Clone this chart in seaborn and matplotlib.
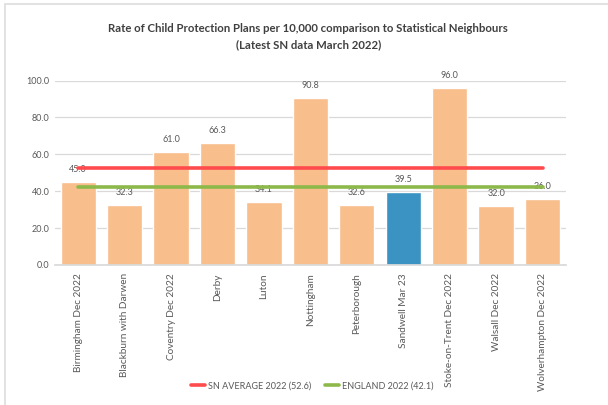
import matplotlib
matplotlib.use("Agg")
import matplotlib.pyplot as plt
import seaborn as sns
import pandas as pd
from matplotlib.patches import Rectangle

areas = ["Birmingham Dec 2022", "Blackburn with Darwen", "Coventry Dec 2022",
         "Derby", "Luton", "Nottingham", "Peterborough", "Sandwell Mar 23",
         "Stoke-on-Trent Dec 2022", "Walsall Dec 2022",
         "Wolverhampton Dec 2022"]
rates = [45.0, 32.3, 61.0, 66.3, 34.1, 90.8, 32.6, 39.5, 96.0, 32.0, 36.0]
highlight = "Sandwell Mar 23"
sn_average = 52.6
england = 42.1

sns.set_theme(style="white")
plt.rcParams["font.family"] = ["Lato", "DejaVu Sans"]

df = pd.DataFrame({"area": areas, "rate": rates})
df["group"] = ["Sandwell" if a == highlight else "SN" for a in df["area"]]

fig = plt.figure(figsize=(6.08, 4.05), dpi=100)
ax = fig.add_axes([0.0905, 0.346, 0.84, 0.455])

sns.barplot(data=df, x="area", y="rate", hue="group",
            palette={"SN": "#F8BE8C", "Sandwell": "#3A93C3"},
            saturation=1, width=0.76, dodge=False, legend=False, ax=ax,
            zorder=2)

for i, v in enumerate(rates):
    ax.annotate(f"{v:.1f}", (i, v), xytext=(0, 9), textcoords="offset points",
                ha="center", va="center", fontsize=6.5, color="#595959",
                zorder=1)

ax.plot(areas, [sn_average] * len(areas), color="#FF4B4B", lw=2.6,
        label="SN AVERAGE 2022 (52.6)", zorder=3)
ax.plot(areas, [england] * len(areas), color="#8DB84A", lw=2.6,
        label="ENGLAND 2022 (42.1)", zorder=3)

ax.set_ylim(0, 100)
ax.set_xlim(-0.5, len(areas) - 0.5)
ax.set_yticks([0, 20, 40, 60, 80, 100])
ax.set_yticklabels([f"{t:.1f}" for t in [0, 20, 40, 60, 80, 100]])
ax.yaxis.grid(True, color="#D9D9D9", lw=0.9, zorder=0)
ax.set_axisbelow(True)
ax.set_xlabel("")
ax.set_ylabel("")
for s in ["top", "right", "left"]:
    ax.spines[s].set_visible(False)
ax.spines["bottom"].set_color("#D9D9D9")
ax.tick_params(axis="y", length=0, labelsize=6.5, labelcolor="#595959",
               pad=4)
ax.tick_params(axis="x", length=0, labelsize=7.2, labelcolor="#595959",
               pad=6)
plt.setp(ax.get_xticklabels(), rotation=90)

fig.text(0.507, 0.909, "Rate of Child Protection Plans per 10,000 comparison "
         "to Statistical Neighbours\n(Latest SN data March 2022)",
         ha="center", va="center", fontsize=8.2, color="#404040",
         fontweight="bold", linespacing=1.55)

ax.legend(loc="center", ncol=2, frameon=False,
          fontsize=6.5, labelcolor="#595959", handlelength=1.6,
          columnspacing=1.5, handletextpad=0.3)
leg = ax.get_legend()
leg.set_bbox_to_anchor((0.513, 0.047), transform=fig.transFigure)

fig.patches.append(Rectangle((0.008, -0.02), 1.1, 1.01,
                             transform=fig.transFigure, fill=False,
                             edgecolor="#DDDDDD", lw=1.2))

fig.savefig("out.png", dpi=100)
